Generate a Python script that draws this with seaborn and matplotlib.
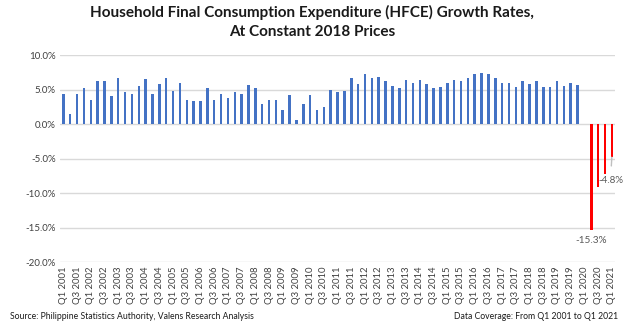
import matplotlib
matplotlib.use("Agg")
import matplotlib.pyplot as plt
import seaborn as sns
import pandas as pd

years = list(range(2001, 2022))
quarters = [f"Q{q} {y}" for y in years for q in (1, 2, 3, 4)][:81]

growth = [
    4.3, 1.4, 4.4, 5.2,
    3.5, 6.3, 6.2, 4.1,
    6.7, 4.6, 4.4, 5.5,
    6.5, 4.4, 5.8, 6.7,
    4.8, 5.9, 3.5, 3.3,
    3.4, 5.2, 3.5, 4.3,
    3.8, 4.7, 4.3, 5.6,
    5.2, 2.9, 3.5, 3.5,
    2.0, 4.2, 0.6, 2.9,
    4.2, 2.0, 2.5, 5.0,
    4.6, 4.8, 6.7, 5.8,
    7.2, 6.7, 6.8, 6.3,
    5.5, 5.2, 6.4, 5.9,
    6.4, 5.8, 5.2, 5.4,
    6.0, 6.4, 6.3, 6.7,
    7.2, 7.4, 7.2, 6.7,
    5.9, 5.9, 5.4, 6.2,
    5.8, 6.2, 5.4, 5.4,
    6.2, 5.5, 5.9, 5.6,
    0.0, -15.3, -9.1, -7.2,
    -4.8,
]
yticks = [10, 5, 0, -5, -10, -15, -20]
tick_labels = quarters[::2]

BLUE = "#4472C4"
RED = "#FF0000"
colors = [BLUE if v >= 0 else RED for v in growth]

df = pd.DataFrame({"quarter": quarters, "growth": growth})

sns.set_theme(style="white")
plt.rcParams["font.family"] = ["Lato", "DejaVu Sans"]

fig = plt.figure(figsize=(6.24, 3.28), dpi=100)
ax = fig.add_axes([0.096, 0.201, 0.89, 0.631])

sns.barplot(data=df, x="quarter", y="growth", hue="quarter",
            palette=colors, legend=False, width=0.36, ax=ax,
            saturation=1, dodge=False, linewidth=0, edgecolor="none")

ax.set_ylim(-20, 10)
ax.set_xlim(-0.5, len(quarters) - 0.5)
ax.set_yticks(yticks)
ax.set_yticklabels([f"{t:.1f}%" for t in yticks], fontsize=7, color="#404040")
ax.yaxis.grid(True, color="#d9d9d9", linewidth=1)
ax.set_axisbelow(True)
ax.set_xticks(range(0, len(quarters), 2))
ax.set_xticklabels(tick_labels, rotation=90, fontsize=6.8, color="#404040")
ax.tick_params(axis="both", length=0, pad=3)
ax.set_xlabel("")
ax.set_ylabel("")
for s in ax.spines.values():
    s.set_visible(False)

# data labels
i_min = growth.index(min(growth))
ax.text(i_min, growth[i_min] - 1.6, f"{growth[i_min]:.1f}%", ha="center",
        va="center", fontsize=7.2, color="#595959")
i_last = len(growth) - 1
ax.annotate(f"{growth[i_last]:.1f}%", xy=(i_last, growth[i_last]),
            xytext=(i_last - 0.2, growth[i_last] - 3.4), ha="center", va="center",
            fontsize=7, color="#595959",
            arrowprops=dict(arrowstyle="-", color="#bfbfbf", lw=1,
                            shrinkA=5, shrinkB=0))

fig.text(0.5, 0.985,
         "Household Final Consumption Expenditure (HFCE) Growth Rates,\nAt Constant 2018 Prices",
         ha="center", va="top", fontsize=11, fontweight="bold", color="#1a1a1a",
         linespacing=1.45)
fig.text(0.016, 0.035, "Source: Philippine Statistics Authority, Valens Research Analysis",
         ha="left", va="center", fontsize=6.2, color="#1a1a1a")
fig.text(0.99, 0.035, "Data Coverage: From Q1 2001 to Q1 2021",
         ha="right", va="center", fontsize=6.2, color="#1a1a1a")

fig.savefig("out.png", dpi=100)
